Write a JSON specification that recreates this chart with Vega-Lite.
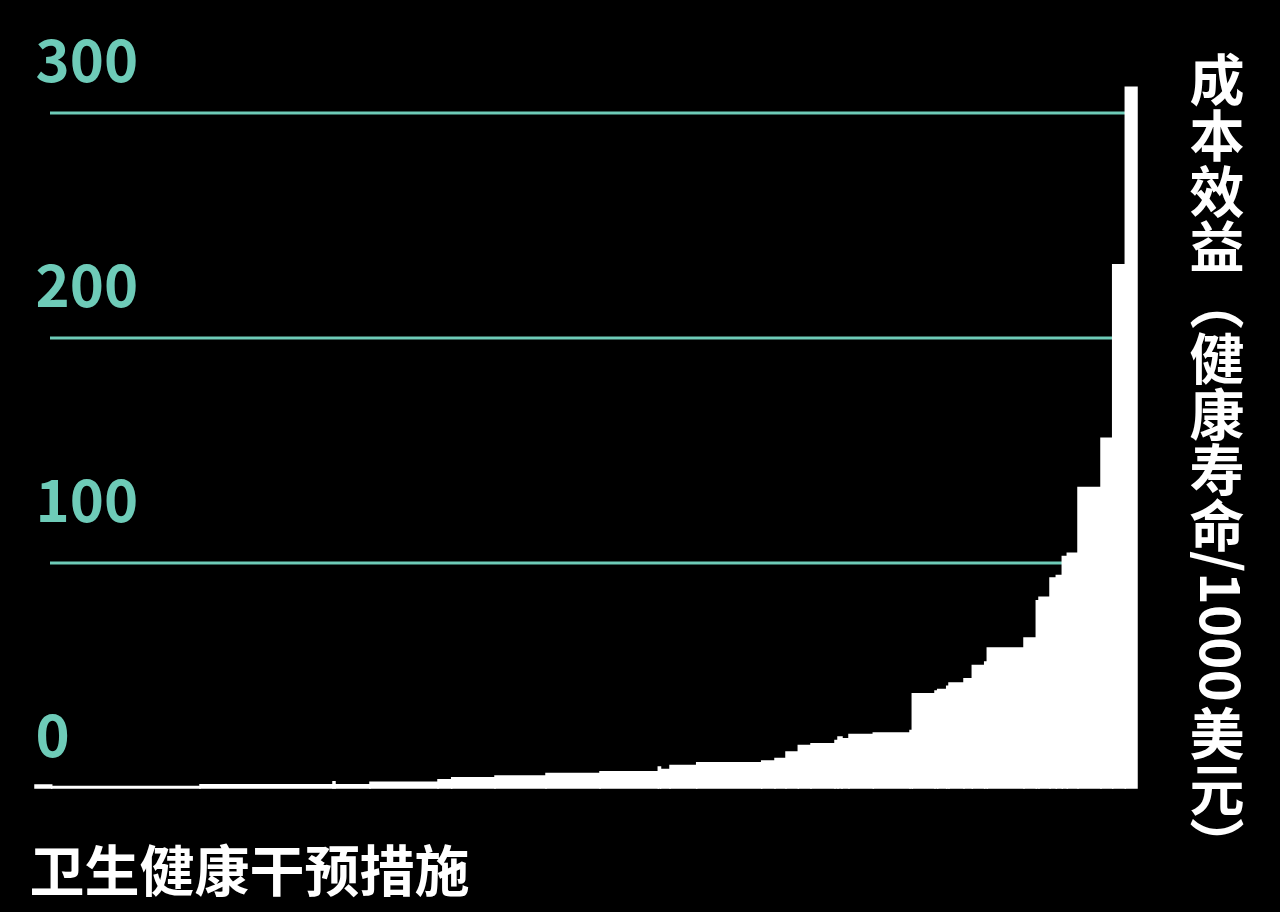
{
  "$schema": "https://vega.github.io/schema/vega-lite/v6.json",
  "description": "Cost-effectiveness of health interventions, sorted ascending",
  "autosize": "none",
  "width": 1102,
  "height": 720,
  "padding": {"left": 35, "top": 68, "right": 143, "bottom": 124},
  "background": "#000000",
  "config": {
    "view": {"stroke": null},
    "font": "Noto Sans CJK SC"
  },
  "datasets": {
    "bars": [
      {"start": 0, "end": 16.7, "v": 1.33},
      {"start": 16.7, "end": 165, "v": 0.71},
      {"start": 165, "end": 298, "v": 1.47},
      {"start": 298, "end": 300, "v": 2.8},
      {"start": 300, "end": 335, "v": 1.47},
      {"start": 335, "end": 403, "v": 2.6},
      {"start": 403, "end": 416.7, "v": 3.69},
      {"start": 416.7, "end": 460, "v": 4.58},
      {"start": 460, "end": 511, "v": 5.33},
      {"start": 511, "end": 565, "v": 6.49},
      {"start": 565, "end": 623.3, "v": 7.24},
      {"start": 623.3, "end": 625.5, "v": 9.33},
      {"start": 625.5, "end": 635, "v": 8.27},
      {"start": 635, "end": 661.7, "v": 10.04},
      {"start": 661.7, "end": 726.7, "v": 11.24},
      {"start": 726.7, "end": 740, "v": 12.0},
      {"start": 740, "end": 751, "v": 13.16},
      {"start": 751, "end": 763.3, "v": 16.0},
      {"start": 763.3, "end": 776, "v": 18.93},
      {"start": 776, "end": 800, "v": 19.69},
      {"start": 800, "end": 803, "v": 21.16},
      {"start": 803, "end": 807, "v": 22.67},
      {"start": 807, "end": 814, "v": 21.91},
      {"start": 814, "end": 838.3, "v": 23.8},
      {"start": 838.3, "end": 875, "v": 24.44},
      {"start": 875, "end": 877.3, "v": 25.6},
      {"start": 877.3, "end": 900, "v": 41.9},
      {"start": 900, "end": 902.7, "v": 43.1},
      {"start": 902.7, "end": 911.7, "v": 43.8},
      {"start": 911.7, "end": 914, "v": 45.2},
      {"start": 914, "end": 929, "v": 46.7},
      {"start": 929, "end": 937.3, "v": 48.6},
      {"start": 937.3, "end": 949.7, "v": 54.5},
      {"start": 949.7, "end": 952.3, "v": 56.0},
      {"start": 952.3, "end": 989, "v": 62.2},
      {"start": 989, "end": 1001.3, "v": 66.7},
      {"start": 1001.3, "end": 1004, "v": 83.2},
      {"start": 1004, "end": 1015, "v": 84.8},
      {"start": 1015, "end": 1021.3, "v": 93.3},
      {"start": 1021.3, "end": 1027.3, "v": 94.5},
      {"start": 1027.3, "end": 1032.3, "v": 102.9},
      {"start": 1032.3, "end": 1043, "v": 104.3},
      {"start": 1043, "end": 1066, "v": 133.6},
      {"start": 1066, "end": 1077.7, "v": 155.4},
      {"start": 1077.7, "end": 1090.3, "v": 232.6},
      {"start": 1090.3, "end": 1102, "v": 311.4}
    ],
    "grid": [
      {"g": 100},
      {"g": 200},
      {"g": 300}
    ]
  },
  "layer": [
    {
      "data": {"name": "grid"},
      "mark": {"type": "rule", "color": "#6ECBB8", "strokeWidth": 3},
      "encoding": {
        "y": {"field": "g", "type": "quantitative"},
        "x": {"datum": 15, "type": "quantitative"},
        "x2": {"datum": 1102}
      }
    },
    {
      "data": {"name": "bars"},
      "mark": {"type": "rect", "color": "#ffffff", "stroke": "#ffffff", "strokeWidth": 1.5},
      "encoding": {
        "x": {
          "field": "start",
          "type": "quantitative",
          "scale": {"domain": [0, 1102], "nice": false, "zero": false},
          "axis": {
            "domain": false,
            "ticks": false,
            "labels": false,
            "grid": false,
            "title": "卫生健康干预措施",
            "titleFont": "Noto Sans CJK SC",
            "titleFontSize": 55,
            "titleFontWeight": "bold",
            "titleColor": "#ffffff",
            "titleAnchor": "start",
            "titleAlign": "left",
            "titleBaseline": "alphabetic",
            "titleX": -6,
            "titleY": 102
          }
        },
        "x2": {"field": "end"},
        "y": {
          "field": "v",
          "type": "quantitative",
          "scale": {"domain": [0, 320], "nice": false},
          "axis": {
            "values": [0, 100, 200, 300],
            "domain": false,
            "ticks": false,
            "tickSize": 0,
            "grid": false,
            "title": null,
            "labelAlign": "left",
            "labelBaseline": "alphabetic",
            "labelPadding": 0,
            "labelFlush": false,
            "labelOverlap": false,
            "labelOffset": {"condition": {"test": "datum.value == 100", "value": -42}, "value": -32},
            "labelColor": "#6ECBB8",
            "labelFont": "Noto Sans CJK SC",
            "labelFontSize": 58,
            "labelFontWeight": "bold"
          }
        },
        "y2": {"datum": 0}
      }
    },
    {
      "data": {"values": [{}]},
      "mark": {
        "type": "text",
        "text": ["成", "本", "效", "益", "︵", "健", "康", "寿", "命"],
        "font": "Noto Sans CJK SC",
        "fontSize": 55,
        "fontWeight": "bold",
        "lineHeight": 55.75,
        "color": "#ffffff",
        "align": "center",
        "baseline": "middle"
      },
      "encoding": {
        "x": {"datum": 1182, "type": "quantitative"},
        "y": {"datum": 313.3, "type": "quantitative"}
      }
    },
    {
      "data": {"values": [{}]},
      "mark": {
        "type": "text",
        "text": "/1000",
        "font": "Noto Sans CJK SC",
        "fontSize": 55,
        "fontWeight": "bold",
        "angle": 90,
        "color": "#ffffff",
        "align": "center",
        "baseline": "middle"
      },
      "encoding": {
        "x": {"datum": 1182, "type": "quantitative"},
        "y": {"datum": 71.8, "type": "quantitative"}
      }
    },
    {
      "data": {"values": [{}]},
      "mark": {
        "type": "text",
        "text": ["美", "元", "︶"],
        "font": "Noto Sans CJK SC",
        "fontSize": 55,
        "fontWeight": "bold",
        "lineHeight": 55.75,
        "color": "#ffffff",
        "align": "center",
        "baseline": "middle"
      },
      "encoding": {
        "x": {"datum": 1182, "type": "quantitative"},
        "y": {"datum": 22.7, "type": "quantitative"}
      }
    }
  ]
}
